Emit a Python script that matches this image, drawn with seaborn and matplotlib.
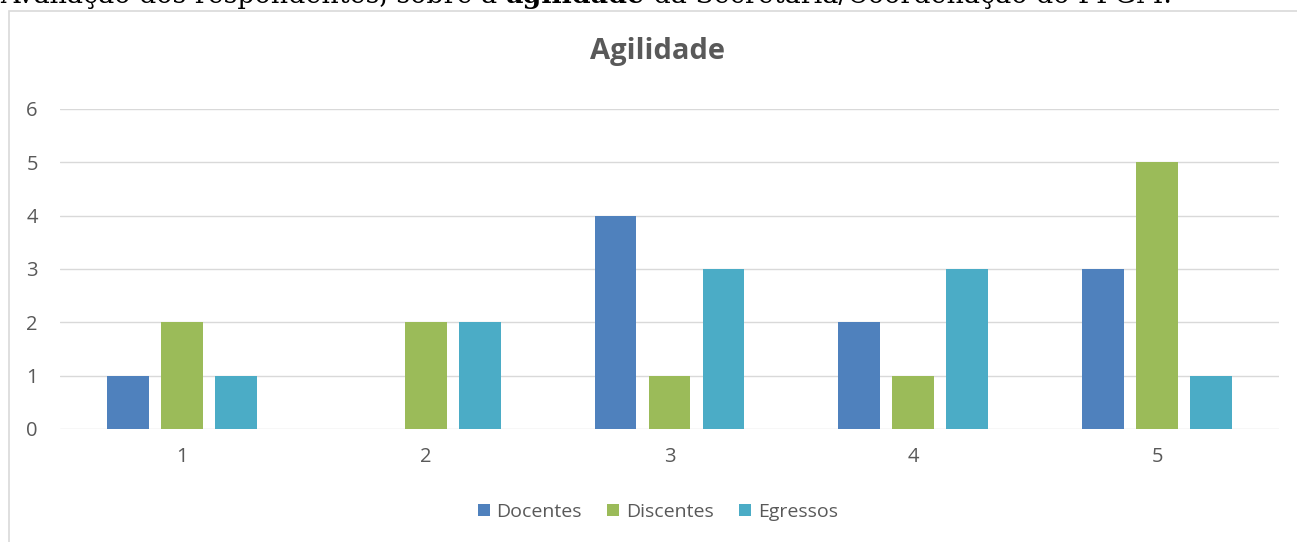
import matplotlib
matplotlib.use("Agg")
import matplotlib.pyplot as plt
import seaborn as sns
import pandas as pd
from matplotlib.patches import Rectangle

# --- données ---
notas = ["1", "2", "3", "4", "5"]
docentes = [1, 0, 4, 2, 3]
discentes = [2, 2, 1, 1, 5]
egressos = [1, 2, 3, 3, 1]
grupos = ["Docentes", "Discentes", "Egressos"]
cores = ["#4F81BD", "#9BBB59", "#4BACC6"]

df = pd.DataFrame({"nota": notas * 3,
                   "valor": docentes + discentes + egressos,
                   "grupo": [g for g in grupos for _ in notas]})

W, H = 1297, 542
sns.set_style("white")
plt.rcParams["font.family"] = ["Open Sans", "DejaVu Sans"]
fig = plt.figure(figsize=(W / 100, H / 100), dpi=100)
ax = fig.add_axes([60 / W, 1 - 429 / H, (1279 - 60) / W, (429 - 109) / H])

sns.barplot(data=df, x="nota", y="valor", hue="grupo", palette=cores,
            width=0.665, gap=0.225, saturation=1, linewidth=0, ax=ax)

ax.set_ylim(0, 6)
ax.set_yticks(range(7))
ax.grid(axis="y", color="#d9d9d9", lw=1)
ax.set_axisbelow(True)
for s in ax.spines.values():
    s.set_visible(False)
ax.tick_params(axis="both", length=0, labelsize=14.5, colors="#595959")
ax.tick_params(axis="x", pad=13)
ax.tick_params(axis="y", pad=16)
ax.set_xlabel("")
ax.set_ylabel("")

leg = ax.legend(loc="center", ncol=3, frameon=False, fontsize=14,
                handlelength=0.62, handleheight=0.62, handletextpad=0.36, columnspacing=1.3)
leg.set_bbox_to_anchor((658 / W, 1 - 512 / H), transform=fig.transFigure)
for t in leg.get_texts():
    t.set_color("#595959")

# moldura
fig.patches.append(Rectangle((9 / W, -0.1), 1.2, 1 - 11 / H + 0.1, transform=fig.transFigure,
                             fill=False, edgecolor="#d9d9d9", lw=1.2))

fig.text(658 / W, 1 - 59 / H, "Agilidade", ha="center", va="baseline",
         fontsize=21, fontweight="bold", color="#595959")

# texto de cima (cortado)
partes = [("Avaliação dos respondentes, sobre a ", "normal"),
          ("agilidade", "bold"),
          (" da Secretaria/Coordenação do PPGM.", "normal")]
r = fig.canvas.get_renderer()
fs = 20
for _ in range(2):
    x = 0
    txts = []
    for s, w in partes:
        t = fig.text(x / W, 1 - 3 / H, s, ha="left", va="baseline", fontsize=fs,
                     fontweight=w, family="DejaVu Serif", color="black")
        x = t.get_window_extent(r).x1
        txts.append(t)
    if _ == 0:
        for t in txts:
            t.remove()
        fs = fs * 1168 / x

fig.savefig("out.png", dpi=100)
